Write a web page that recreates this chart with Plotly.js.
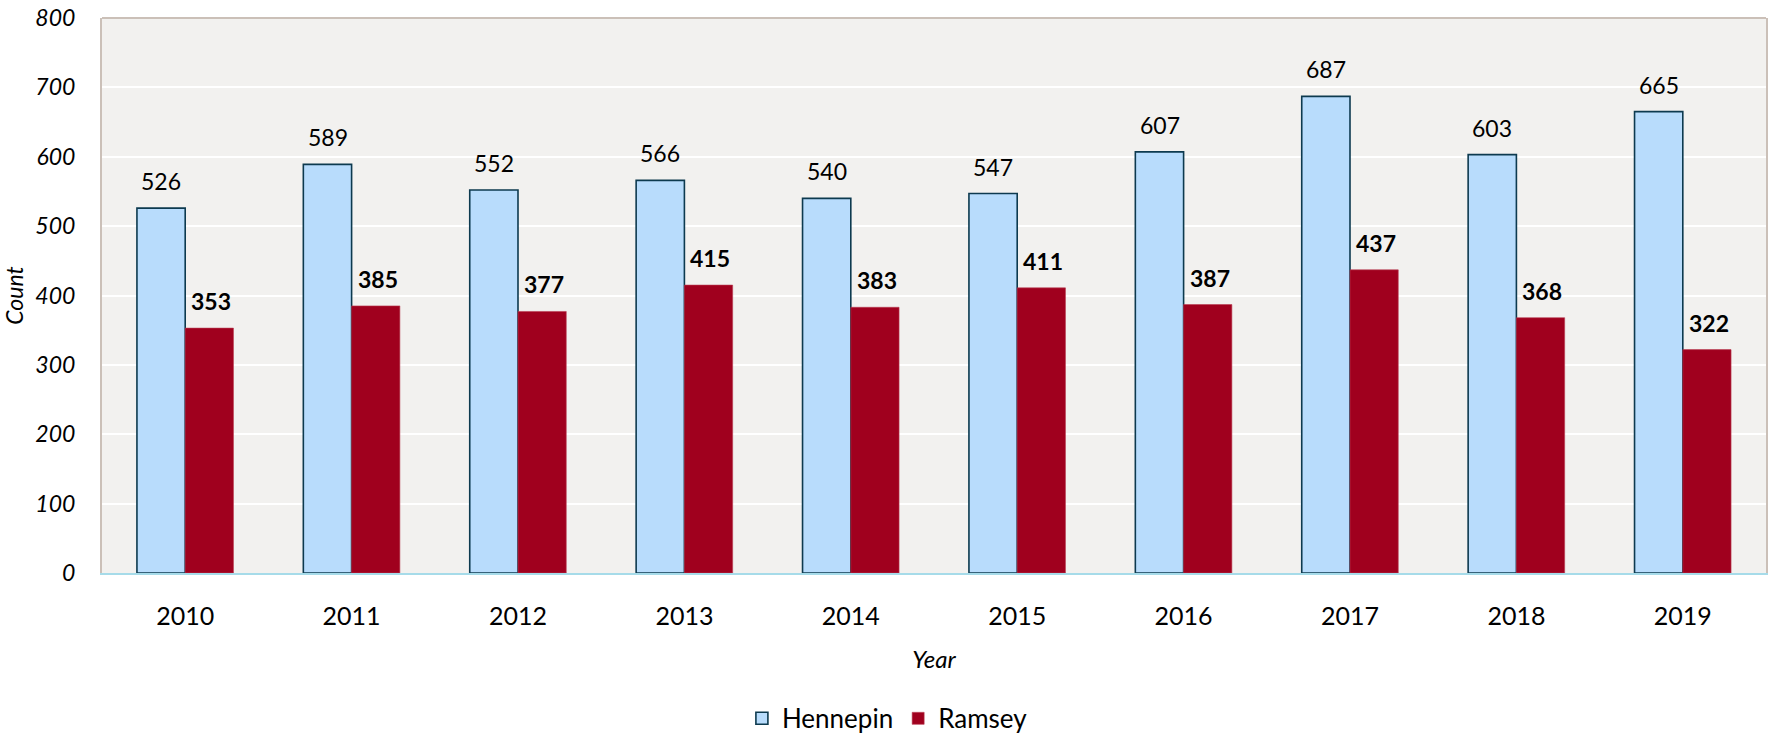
<!DOCTYPE html>
<html>
<head>
<meta charset="utf-8">
<script src="https://cdn.plot.ly/plotly-3.0.1.min.js"></script>
<style>html,body{margin:0;padding:0;background:#fff;}#chart{width:1771px;height:741px;}</style>
</head>
<body>
<div id="chart"></div>
<script>
const years = ['2010','2011','2012','2013','2014','2015','2016','2017','2018','2019'];
const hennepin = [526, 589, 552, 566, 540, 547, 607, 687, 603, 665];
const ramsey = [353, 385, 377, 415, 383, 411, 387, 437, 368, 322];
const yTicks = [0, 100, 200, 300, 400, 500, 600, 700, 800];

const FONT = 'Lato, "Open Sans", sans-serif';

const traces = [
  {
    type: 'bar', name: 'Hennepin', x: years, y: hennepin,
    marker: {color: '#b8dcfc', line: {color: '#0d3a4f', width: 1.6}},
    hoverinfo: 'x+y'
  },
  {
    type: 'bar', name: 'Ramsey', x: years, y: ramsey,
    marker: {color: '#a0001e', line: {color: '#b83a50', width: 0.6}},
    hoverinfo: 'x+y'
  }
];

const annotations = [];
years.forEach((yr, i) => {
  annotations.push({
    x: i, y: hennepin[i], xref: 'x', yref: 'y', text: String(hennepin[i]),
    showarrow: false, xshift: -24, yshift: 27, yanchor: 'middle',
    font: {family: FONT, size: 23, color: '#000'}
  });
  annotations.push({
    x: i, y: ramsey[i], xref: 'x', yref: 'y', text: '<b>' + ramsey[i] + '</b>',
    showarrow: false, xshift: 26, yshift: 27, yanchor: 'middle',
    font: {family: FONT, size: 23, color: '#000'}
  });
});

const layout = {
  width: 1771, height: 741,
  margin: {l: 102, r: 5, t: 18, b: 168, autoexpand: false},
  paper_bgcolor: '#ffffff',
  plot_bgcolor: '#f2f1ef',
  barmode: 'group',
  bargap: 0.42,
  bargroupgap: 0,
  font: {family: FONT, color: '#000'},
  xaxis: {
    type: 'category',
    categoryorder: 'array', categoryarray: years,
    range: [-0.5, years.length - 0.5],
    autorange: false,
    showgrid: false,
    showline: true, linecolor: '#a6dbe9', linewidth: 2,
    ticks: 'outside', ticklen: 20, tickcolor: 'rgba(0,0,0,0)',
    tickfont: {family: FONT, size: 25, color: '#000'},
    title: {text: '<i>Year</i>', font: {family: FONT, size: 24, color: '#000'}, standoff: 22}
  },
  yaxis: {
    range: [0, 800],
    autorange: false,
    tickvals: yTicks,
    ticktext: yTicks.map(v => '<i>' + v + '</i>'),
    showgrid: true, gridcolor: '#ffffff', gridwidth: 2,
    zeroline: false,
    showline: true, linecolor: '#cbc0b8', linewidth: 2, mirror: true,
    ticks: 'outside', ticklen: 20, tickcolor: 'rgba(0,0,0,0)',
    tickfont: {family: FONT, size: 23, color: '#000'},
    title: {text: '<i>Count</i>', font: {family: FONT, size: 23, color: '#000'}, standoff: 10}
  },
  shapes: [
    {type: 'line', xref: 'paper', yref: 'paper', x0: 0, x1: 1, y0: 1, y1: 1,
     line: {color: '#cbc0b8', width: 2}}
  ],
  annotations: annotations,
  legend: {
    orientation: 'h', x: 0.472, xanchor: 'center', y: -0.262, yanchor: 'middle',
    font: {family: FONT, size: 26, color: '#000'},
    itemwidth: 30, traceorder: 'normal', tracegroupgap: 0
  },
  showlegend: true
};

Plotly.newPlot('chart', traces, layout, {displayModeBar: false, staticPlot: true});
</script>
</body>
</html>
